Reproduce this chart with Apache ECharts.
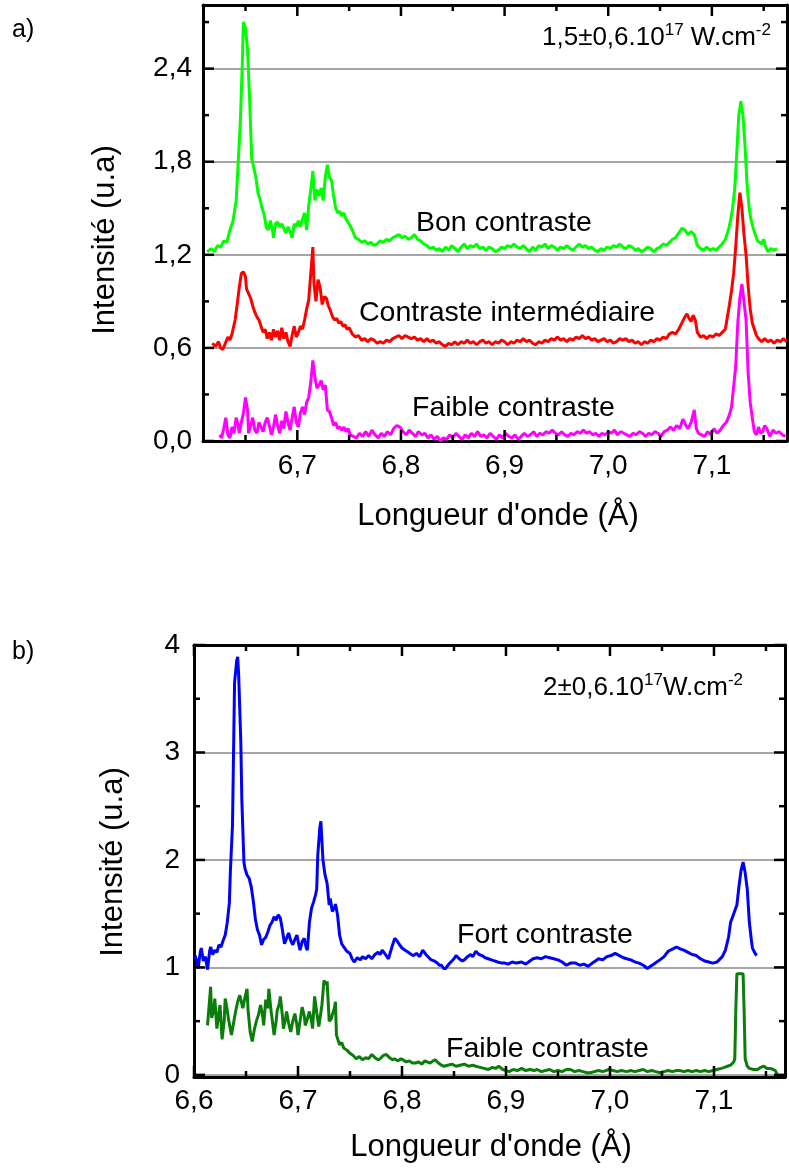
<!DOCTYPE html>
<html>
<head>
<meta charset="utf-8">
<script src="https://cdn.jsdelivr.net/npm/echarts@6/dist/echarts.min.js"></script>
<style>
html,body{margin:0;padding:0;background:#fff;}
#chart{width:789px;height:1169px;background:#fff;}
#dbg{position:absolute;left:0;top:545px;width:789px;font:12px monospace;white-space:pre-wrap;background:rgba(255,255,180,0.95);display:none;}
</style>
</head>
<body>
<div id="chart"></div>
<div id="dbg"></div>
<script>
const dbgLines = [];
function report(m) { dbgLines.push(m); const d = document.getElementById('dbg'); d.textContent = dbgLines.join('\n'); d.style.display = 'block'; }
window.addEventListener('error', function (e) { report('ERR ' + e.message); });

// ---------- Panel a) : 1,5±0,6.10^17 W.cm^-2 ----------
const bonContraste = [[6.613,1.22],[6.617,1.24],[6.620,1.22],[6.623,1.26],[6.626,1.25],[6.629,1.29],[6.632,1.28],[6.635,1.36],[6.638,1.42],[6.641,1.55],[6.643,1.80],[6.645,2.05],[6.647,2.45],[6.648,2.70],[6.650,2.66],[6.652,2.52],[6.654,2.20],[6.656,1.82],[6.658,1.76],[6.660,1.70],[6.662,1.60],[6.664,1.56],[6.666,1.50],[6.668,1.46],[6.670,1.38],[6.672,1.36],[6.674,1.42],[6.676,1.36],[6.677,1.31],[6.679,1.40],[6.681,1.41],[6.683,1.38],[6.685,1.40],[6.687,1.37],[6.689,1.34],[6.691,1.38],[6.693,1.35],[6.695,1.31],[6.697,1.40],[6.699,1.38],[6.701,1.42],[6.703,1.38],[6.705,1.43],[6.707,1.47],[6.709,1.36],[6.711,1.52],[6.713,1.62],[6.715,1.74],[6.717,1.55],[6.719,1.62],[6.721,1.58],[6.723,1.63],[6.725,1.55],[6.727,1.70],[6.729,1.78],[6.731,1.70],[6.733,1.68],[6.735,1.58],[6.737,1.50],[6.739,1.47],[6.741,1.48],[6.743,1.45],[6.745,1.47],[6.747,1.43],[6.750,1.40],[6.753,1.36],[6.756,1.31],[6.759,1.30],[6.762,1.28],[6.765,1.29],[6.768,1.27],[6.771,1.28],[6.774,1.26],[6.777,1.27],[6.780,1.29],[6.783,1.28],[6.786,1.30],[6.789,1.29],[6.792,1.31],[6.795,1.32],[6.798,1.33],[6.801,1.31],[6.804,1.32],[6.807,1.30],[6.810,1.31],[6.813,1.33],[6.816,1.30],[6.819,1.29],[6.822,1.27],[6.825,1.26],[6.828,1.24],[6.831,1.25],[6.834,1.23],[6.837,1.24],[6.840,1.22],[6.843,1.25],[6.846,1.23],[6.849,1.26],[6.852,1.24],[6.855,1.22],[6.858,1.25],[6.861,1.27],[6.864,1.24],[6.867,1.26],[6.870,1.25],[6.873,1.27],[6.876,1.24],[6.879,1.25],[6.882,1.23],[6.885,1.25],[6.888,1.24],[6.891,1.22],[6.894,1.23],[6.897,1.25],[6.900,1.24],[6.903,1.26],[6.906,1.25],[6.909,1.27],[6.912,1.25],[6.915,1.24],[6.918,1.26],[6.921,1.24],[6.924,1.22],[6.927,1.25],[6.930,1.23],[6.933,1.26],[6.936,1.25],[6.939,1.27],[6.942,1.24],[6.945,1.26],[6.948,1.25],[6.951,1.23],[6.954,1.25],[6.957,1.24],[6.960,1.26],[6.963,1.24],[6.966,1.23],[6.969,1.25],[6.972,1.27],[6.975,1.25],[6.978,1.26],[6.981,1.24],[6.984,1.25],[6.987,1.23],[6.990,1.22],[6.993,1.24],[6.996,1.23],[6.999,1.25],[7.002,1.24],[7.005,1.26],[7.008,1.25],[7.011,1.27],[7.014,1.25],[7.017,1.24],[7.020,1.26],[7.023,1.25],[7.026,1.23],[7.029,1.24],[7.032,1.22],[7.035,1.23],[7.038,1.25],[7.041,1.24],[7.044,1.22],[7.047,1.24],[7.050,1.25],[7.053,1.27],[7.056,1.26],[7.059,1.28],[7.062,1.30],[7.065,1.31],[7.068,1.34],[7.071,1.37],[7.074,1.36],[7.077,1.33],[7.080,1.35],[7.083,1.33],[7.086,1.26],[7.089,1.24],[7.092,1.23],[7.095,1.25],[7.098,1.23],[7.101,1.24],[7.104,1.23],[7.107,1.25],[7.110,1.27],[7.113,1.30],[7.116,1.36],[7.118,1.42],[7.120,1.50],[7.122,1.62],[7.124,1.85],[7.126,2.10],[7.128,2.19],[7.130,2.10],[7.132,1.90],[7.134,1.65],[7.136,1.50],[7.138,1.42],[7.140,1.37],[7.142,1.33],[7.144,1.29],[7.146,1.28],[7.148,1.27],[7.150,1.30],[7.152,1.25],[7.154,1.22],[7.157,1.24],[7.160,1.23],[7.163,1.24]];

const contrasteInter = [[6.618,0.63],[6.621,0.61],[6.624,0.64],[6.626,0.60],[6.628,0.59],[6.630,0.62],[6.633,0.67],[6.635,0.65],[6.637,0.69],[6.640,0.78],[6.642,0.88],[6.644,0.99],[6.646,1.08],[6.648,1.09],[6.650,1.06],[6.651,0.98],[6.653,0.95],[6.655,0.92],[6.657,0.87],[6.659,0.83],[6.661,0.80],[6.663,0.78],[6.665,0.74],[6.667,0.70],[6.669,0.72],[6.671,0.66],[6.673,0.70],[6.675,0.65],[6.677,0.72],[6.679,0.67],[6.681,0.71],[6.683,0.65],[6.685,0.73],[6.687,0.66],[6.689,0.70],[6.691,0.64],[6.693,0.61],[6.695,0.68],[6.697,0.74],[6.699,0.67],[6.701,0.70],[6.703,0.74],[6.705,0.72],[6.707,0.78],[6.709,0.85],[6.711,0.91],[6.713,1.08],[6.715,1.25],[6.716,1.02],[6.718,0.90],[6.720,1.04],[6.722,0.99],[6.724,0.88],[6.726,0.93],[6.728,0.92],[6.730,0.87],[6.732,0.84],[6.734,0.80],[6.736,0.78],[6.738,0.79],[6.740,0.76],[6.742,0.77],[6.744,0.74],[6.746,0.75],[6.748,0.72],[6.750,0.73],[6.753,0.69],[6.756,0.67],[6.759,0.68],[6.762,0.65],[6.765,0.66],[6.768,0.64],[6.771,0.66],[6.774,0.65],[6.777,0.63],[6.780,0.64],[6.783,0.63],[6.786,0.65],[6.789,0.64],[6.792,0.66],[6.795,0.67],[6.798,0.68],[6.801,0.66],[6.804,0.68],[6.807,0.67],[6.810,0.66],[6.813,0.67],[6.816,0.65],[6.819,0.66],[6.822,0.64],[6.825,0.66],[6.828,0.64],[6.831,0.65],[6.834,0.63],[6.837,0.64],[6.840,0.62],[6.843,0.61],[6.846,0.63],[6.849,0.62],[6.852,0.64],[6.855,0.62],[6.858,0.64],[6.861,0.63],[6.864,0.65],[6.867,0.63],[6.870,0.64],[6.873,0.62],[6.876,0.64],[6.879,0.65],[6.882,0.63],[6.885,0.64],[6.888,0.62],[6.891,0.64],[6.894,0.63],[6.897,0.65],[6.900,0.64],[6.903,0.62],[6.906,0.64],[6.909,0.63],[6.912,0.65],[6.915,0.64],[6.918,0.66],[6.921,0.64],[6.924,0.65],[6.927,0.63],[6.930,0.62],[6.933,0.64],[6.936,0.63],[6.939,0.65],[6.942,0.64],[6.945,0.66],[6.948,0.65],[6.951,0.67],[6.954,0.65],[6.957,0.66],[6.960,0.64],[6.963,0.66],[6.966,0.65],[6.969,0.67],[6.972,0.66],[6.975,0.68],[6.978,0.66],[6.981,0.67],[6.984,0.65],[6.987,0.66],[6.990,0.64],[6.993,0.65],[6.996,0.66],[6.999,0.64],[7.002,0.65],[7.005,0.63],[7.008,0.64],[7.011,0.66],[7.014,0.65],[7.017,0.66],[7.020,0.64],[7.023,0.65],[7.026,0.63],[7.029,0.64],[7.032,0.62],[7.035,0.64],[7.038,0.63],[7.041,0.65],[7.044,0.64],[7.047,0.66],[7.050,0.65],[7.053,0.67],[7.056,0.66],[7.059,0.69],[7.062,0.70],[7.065,0.69],[7.068,0.72],[7.071,0.76],[7.074,0.80],[7.076,0.82],[7.078,0.79],[7.080,0.77],[7.082,0.81],[7.084,0.78],[7.086,0.70],[7.089,0.67],[7.092,0.68],[7.095,0.66],[7.098,0.68],[7.101,0.67],[7.104,0.69],[7.107,0.68],[7.110,0.70],[7.113,0.72],[7.115,0.80],[7.117,0.88],[7.119,0.97],[7.121,1.08],[7.123,1.25],[7.125,1.45],[7.127,1.60],[7.129,1.50],[7.131,1.33],[7.133,1.20],[7.135,1.00],[7.137,0.85],[7.139,0.76],[7.141,0.72],[7.143,0.68],[7.145,0.66],[7.148,0.64],[7.151,0.66],[7.154,0.64],[7.157,0.65],[7.160,0.63],[7.163,0.65],[7.166,0.64],[7.169,0.66],[7.172,0.64]];

const faibleContrasteA = [[6.625,0.04],[6.627,0.02],[6.629,0.08],[6.631,0.15],[6.633,0.04],[6.635,0.02],[6.637,0.09],[6.639,0.05],[6.641,0.15],[6.643,0.10],[6.644,0.05],[6.646,0.12],[6.648,0.18],[6.650,0.28],[6.652,0.20],[6.653,0.05],[6.655,0.10],[6.657,0.15],[6.659,0.07],[6.661,0.05],[6.663,0.12],[6.665,0.09],[6.667,0.06],[6.669,0.12],[6.671,0.15],[6.673,0.10],[6.675,0.04],[6.677,0.09],[6.679,0.17],[6.681,0.10],[6.683,0.05],[6.685,0.13],[6.687,0.08],[6.689,0.19],[6.691,0.12],[6.693,0.07],[6.695,0.15],[6.697,0.22],[6.699,0.12],[6.701,0.09],[6.703,0.18],[6.705,0.22],[6.707,0.17],[6.709,0.25],[6.711,0.28],[6.713,0.38],[6.715,0.52],[6.717,0.41],[6.719,0.34],[6.721,0.36],[6.723,0.39],[6.725,0.33],[6.727,0.36],[6.729,0.20],[6.731,0.19],[6.733,0.15],[6.735,0.10],[6.737,0.12],[6.739,0.08],[6.741,0.09],[6.743,0.07],[6.745,0.09],[6.747,0.06],[6.749,0.08],[6.751,0.04],[6.754,0.03],[6.757,0.02],[6.760,0.05],[6.763,0.03],[6.766,0.06],[6.769,0.03],[6.772,0.07],[6.775,0.04],[6.778,0.02],[6.781,0.05],[6.784,0.03],[6.787,0.06],[6.790,0.04],[6.793,0.08],[6.796,0.10],[6.799,0.09],[6.802,0.06],[6.805,0.04],[6.808,0.07],[6.811,0.05],[6.814,0.03],[6.817,0.06],[6.820,0.04],[6.823,0.05],[6.826,0.02],[6.829,0.04],[6.832,0.01],[6.835,0.03],[6.838,0.00],[6.841,0.02],[6.844,0.01],[6.847,0.04],[6.850,0.02],[6.853,0.05],[6.856,0.03],[6.859,0.01],[6.862,0.04],[6.865,0.02],[6.868,0.05],[6.871,0.03],[6.874,0.06],[6.877,0.03],[6.880,0.04],[6.883,0.02],[6.886,0.05],[6.889,0.03],[6.892,0.01],[6.895,0.04],[6.898,0.02],[6.901,0.05],[6.904,0.03],[6.907,0.02],[6.910,0.04],[6.913,0.01],[6.916,0.03],[6.919,0.05],[6.922,0.03],[6.925,0.04],[6.928,0.06],[6.931,0.03],[6.934,0.05],[6.937,0.04],[6.940,0.06],[6.943,0.05],[6.946,0.07],[6.949,0.05],[6.952,0.04],[6.955,0.06],[6.958,0.04],[6.961,0.03],[6.964,0.05],[6.967,0.04],[6.970,0.06],[6.973,0.05],[6.976,0.07],[6.979,0.05],[6.982,0.06],[6.985,0.04],[6.988,0.05],[6.991,0.03],[6.994,0.05],[6.997,0.04],[7.000,0.06],[7.003,0.05],[7.006,0.07],[7.009,0.04],[7.012,0.06],[7.015,0.05],[7.018,0.04],[7.021,0.03],[7.024,0.05],[7.027,0.04],[7.030,0.06],[7.033,0.05],[7.036,0.03],[7.039,0.05],[7.042,0.04],[7.045,0.06],[7.048,0.05],[7.051,0.03],[7.054,0.06],[7.057,0.07],[7.060,0.09],[7.063,0.07],[7.066,0.10],[7.069,0.08],[7.072,0.14],[7.075,0.10],[7.077,0.08],[7.080,0.12],[7.083,0.20],[7.085,0.08],[7.087,0.05],[7.090,0.04],[7.093,0.03],[7.096,0.06],[7.099,0.04],[7.102,0.08],[7.105,0.05],[7.108,0.07],[7.111,0.10],[7.114,0.12],[7.117,0.17],[7.119,0.22],[7.121,0.35],[7.123,0.48],[7.125,0.76],[7.127,0.92],[7.129,1.01],[7.131,0.90],[7.133,0.78],[7.135,0.44],[7.137,0.25],[7.139,0.15],[7.141,0.06],[7.143,0.04],[7.145,0.09],[7.147,0.05],[7.149,0.06],[7.151,0.10],[7.153,0.08],[7.156,0.03],[7.159,0.07],[7.162,0.05],[7.165,0.06],[7.168,0.04],[7.171,0.03]];

// ---------- Panel b) : 2±0,6.10^17 W.cm^-2 ----------
const fortContraste = [[6.601,1.11],[6.603,1.05],[6.604,0.99],[6.606,1.14],[6.607,1.18],[6.609,1.06],[6.611,1.10],[6.613,0.98],[6.615,1.15],[6.616,1.19],[6.618,1.12],[6.620,1.16],[6.622,1.14],[6.624,1.21],[6.626,1.19],[6.628,1.25],[6.630,1.30],[6.632,1.42],[6.634,1.60],[6.635,1.90],[6.637,2.32],[6.639,3.65],[6.641,3.85],[6.642,3.89],[6.643,3.71],[6.645,3.10],[6.646,2.56],[6.648,1.98],[6.649,1.92],[6.651,1.86],[6.653,1.83],[6.655,1.75],[6.657,1.62],[6.659,1.45],[6.661,1.35],[6.663,1.30],[6.665,1.21],[6.667,1.26],[6.669,1.28],[6.671,1.33],[6.673,1.39],[6.675,1.42],[6.677,1.47],[6.679,1.44],[6.681,1.49],[6.683,1.46],[6.685,1.35],[6.687,1.22],[6.689,1.27],[6.691,1.32],[6.693,1.25],[6.695,1.21],[6.697,1.26],[6.699,1.30],[6.701,1.20],[6.702,1.16],[6.704,1.24],[6.706,1.27],[6.708,1.18],[6.709,1.16],[6.711,1.42],[6.713,1.55],[6.715,1.61],[6.717,1.68],[6.718,1.73],[6.719,2.04],[6.721,2.30],[6.722,2.36],[6.724,2.00],[6.726,1.86],[6.728,1.78],[6.730,1.58],[6.731,1.64],[6.733,1.52],[6.735,1.55],[6.736,1.59],[6.738,1.49],[6.740,1.30],[6.742,1.22],[6.744,1.19],[6.747,1.15],[6.750,1.13],[6.752,1.08],[6.754,1.05],[6.757,1.09],[6.760,1.07],[6.762,1.10],[6.765,1.08],[6.768,1.11],[6.771,1.08],[6.774,1.12],[6.777,1.14],[6.779,1.12],[6.781,1.16],[6.784,1.12],[6.787,1.08],[6.790,1.18],[6.793,1.27],[6.795,1.25],[6.797,1.22],[6.800,1.18],[6.803,1.16],[6.806,1.14],[6.809,1.12],[6.811,1.11],[6.814,1.13],[6.817,1.10],[6.820,1.16],[6.823,1.12],[6.826,1.09],[6.828,1.07],[6.831,1.06],[6.834,1.04],[6.836,1.02],[6.838,1.02],[6.840,0.99],[6.842,0.99],[6.845,1.03],[6.848,1.06],[6.850,1.08],[6.852,1.11],[6.855,1.08],[6.858,1.06],[6.860,1.07],[6.863,1.10],[6.866,1.12],[6.868,1.10],[6.871,1.15],[6.874,1.12],[6.877,1.11],[6.880,1.09],[6.883,1.08],[6.886,1.07],[6.889,1.06],[6.892,1.05],[6.896,1.04],[6.899,1.04],[6.902,1.03],[6.906,1.05],[6.910,1.04],[6.915,1.05],[6.919,1.03],[6.923,1.06],[6.926,1.08],[6.930,1.09],[6.934,1.08],[6.938,1.10],[6.942,1.09],[6.946,1.08],[6.950,1.07],[6.954,1.05],[6.958,1.02],[6.962,1.04],[6.967,1.04],[6.971,1.02],[6.975,1.03],[6.979,1.01],[6.983,1.04],[6.986,1.06],[6.989,1.08],[6.993,1.07],[6.997,1.10],[7.001,1.11],[7.005,1.13],[7.009,1.11],[7.013,1.09],[7.016,1.08],[7.020,1.07],[7.024,1.05],[7.028,1.04],[7.032,1.02],[7.036,0.99],[7.039,1.01],[7.042,1.03],[7.045,1.05],[7.048,1.07],[7.052,1.10],[7.056,1.15],[7.060,1.17],[7.064,1.19],[7.068,1.17],[7.071,1.16],[7.075,1.14],[7.079,1.12],[7.083,1.11],[7.087,1.08],[7.091,1.06],[7.095,1.05],[7.099,1.04],[7.103,1.05],[7.105,1.07],[7.108,1.10],[7.111,1.16],[7.114,1.28],[7.116,1.42],[7.119,1.50],[7.122,1.58],[7.124,1.75],[7.126,1.90],[7.128,1.98],[7.130,1.88],[7.132,1.73],[7.134,1.42],[7.136,1.25],[7.137,1.18],[7.139,1.14],[7.141,1.11]];

const faibleContrasteB = [[6.613,0.46],[6.616,0.82],[6.617,0.53],[6.619,0.60],[6.620,0.71],[6.622,0.43],[6.624,0.58],[6.625,0.65],[6.627,0.33],[6.629,0.50],[6.630,0.71],[6.632,0.60],[6.633,0.53],[6.636,0.37],[6.638,0.48],[6.640,0.59],[6.642,0.68],[6.644,0.74],[6.646,0.66],[6.647,0.62],[6.649,0.72],[6.651,0.80],[6.652,0.60],[6.654,0.40],[6.656,0.31],[6.658,0.42],[6.660,0.50],[6.662,0.56],[6.664,0.65],[6.666,0.55],[6.667,0.46],[6.669,0.70],[6.671,0.62],[6.672,0.80],[6.674,0.60],[6.675,0.53],[6.677,0.37],[6.679,0.50],[6.680,0.60],[6.682,0.66],[6.683,0.73],[6.685,0.55],[6.686,0.43],[6.688,0.52],[6.689,0.59],[6.691,0.48],[6.693,0.40],[6.695,0.50],[6.697,0.57],[6.699,0.46],[6.700,0.37],[6.702,0.50],[6.704,0.63],[6.706,0.55],[6.707,0.46],[6.709,0.52],[6.711,0.59],[6.713,0.50],[6.714,0.43],[6.716,0.73],[6.718,0.58],[6.720,0.45],[6.722,0.58],[6.723,0.65],[6.725,0.88],[6.727,0.84],[6.728,0.87],[6.730,0.50],[6.732,0.52],[6.733,0.56],[6.735,0.62],[6.736,0.68],[6.737,0.37],[6.740,0.28],[6.742,0.30],[6.744,0.25],[6.747,0.23],[6.750,0.20],[6.753,0.18],[6.756,0.15],[6.759,0.17],[6.762,0.14],[6.765,0.16],[6.768,0.15],[6.771,0.19],[6.774,0.16],[6.777,0.14],[6.779,0.15],[6.782,0.18],[6.785,0.19],[6.788,0.16],[6.791,0.14],[6.793,0.15],[6.796,0.13],[6.799,0.15],[6.801,0.14],[6.804,0.12],[6.807,0.13],[6.810,0.11],[6.813,0.11],[6.816,0.12],[6.819,0.10],[6.822,0.13],[6.824,0.12],[6.827,0.11],[6.830,0.13],[6.832,0.14],[6.835,0.11],[6.838,0.09],[6.840,0.08],[6.844,0.09],[6.848,0.10],[6.852,0.08],[6.856,0.09],[6.860,0.10],[6.864,0.08],[6.868,0.09],[6.871,0.08],[6.875,0.07],[6.879,0.06],[6.883,0.05],[6.887,0.07],[6.890,0.06],[6.893,0.08],[6.897,0.05],[6.900,0.04],[6.903,0.03],[6.907,0.05],[6.911,0.04],[6.915,0.06],[6.919,0.04],[6.923,0.05],[6.927,0.04],[6.930,0.05],[6.934,0.03],[6.938,0.04],[6.942,0.05],[6.946,0.03],[6.950,0.04],[6.954,0.03],[6.958,0.05],[6.962,0.05],[6.966,0.03],[6.970,0.04],[6.974,0.03],[6.978,0.02],[6.981,0.02],[6.985,0.03],[6.989,0.04],[6.993,0.03],[6.996,0.04],[6.999,0.05],[7.003,0.04],[7.007,0.03],[7.011,0.04],[7.016,0.03],[7.020,0.04],[7.024,0.03],[7.028,0.04],[7.032,0.05],[7.036,0.03],[7.040,0.04],[7.044,0.03],[7.048,0.02],[7.052,0.03],[7.056,0.04],[7.060,0.03],[7.064,0.04],[7.067,0.04],[7.071,0.03],[7.075,0.04],[7.079,0.03],[7.083,0.04],[7.087,0.03],[7.091,0.04],[7.095,0.03],[7.099,0.04],[7.103,0.05],[7.107,0.06],[7.110,0.07],[7.113,0.08],[7.116,0.09],[7.119,0.12],[7.120,0.15],[7.121,0.60],[7.122,0.94],[7.125,0.94],[7.128,0.94],[7.129,0.60],[7.130,0.15],[7.132,0.08],[7.134,0.06],[7.138,0.05],[7.142,0.05],[7.145,0.07],[7.148,0.08],[7.151,0.06],[7.154,0.06],[7.157,0.05],[7.159,0.04],[7.161,0.00]];

// ---------- Axis ranges and ticks ----------
const xRangeA = [6.609, 7.1725];
const yRangeA = [0, 2.81];
const xRangeB = [6.6, 7.1683];
const yRangeB = [-0.02, 4];
const xMajorA = [6.7, 6.8, 6.9, 7.0, 7.1];
const xMinorA = [6.65, 6.75, 6.85, 6.95, 7.05, 7.15];
const yMajorA = [0, 0.6, 1.2, 1.8, 2.4];
const yMinorA = [0.3, 0.9, 1.5, 2.1, 2.7];
const xMajorB = [6.6, 6.7, 6.8, 6.9, 7.0, 7.1];
const xMinorB = [6.65, 6.75, 6.85, 6.95, 7.05, 7.15];
const yMajorB = [0, 1, 2, 3, 4];
const yMinorB = [0.5, 1.5, 2.5, 3.5];

const FONT = "'Liberation Sans', Arial, sans-serif";
const comma1 = v => v.toFixed(1).replace('.', ',');
const intFmt = v => String(Math.round(v));
const MAJOR_LEN = 11, MINOR_LEN = 6;
const GRID_A = { left: 203, top: 5, width: 584, height: 436 };
const GRID_B = { left: 194, top: 645, width: 591, height: 432 };

function axisPair(dim, grid, range, labels, fmt, labelMargin) {
  const posA = dim === 'x' ? 'bottom' : 'left';
  const posB = dim === 'x' ? 'top' : 'right';
  const lineOn = { show: true, onZero: false, lineStyle: { color: '#000', width: 3 } };
  const base = { type: 'value', gridIndex: grid, min: range[0], max: range[1], scale: true,
    axisTick: { show: false }, axisLine: lineOn };
  return [
    Object.assign({}, base, { position: posA,
      axisTick: { show: false, customValues: labels },
      axisLabel: { show: true, customValues: labels, formatter: fmt, fontSize: 28, color: '#000', fontFamily: FONT, margin: labelMargin },
      splitLine: dim === 'y' ? { show: true, lineStyle: { color: '#888', width: 1.5 } } : { show: false } }),
    Object.assign({}, base, { position: posB, axisLabel: { show: false }, splitLine: { show: false } })
  ];
}

const xAxes = [].concat(
  axisPair('x', 0, xRangeA, xMajorA, comma1, 11),
  axisPair('x', 1, xRangeB, xMajorB, comma1, 10)
);
const yAxes = [].concat(
  axisPair('y', 0, yRangeA, yMajorA, comma1, 11),
  axisPair('y', 1, yRangeB, yMajorB, intFmt, 14)
);

function line(name, data, color, xi, yi) {
  return { name: name, type: 'line', data: data, xAxisIndex: xi, yAxisIndex: yi,
    showSymbol: false, symbol: 'none', lineStyle: { color: color, width: 3 }, itemStyle: { color: color },
    z: 3 };
}

// inward tick marks on all four sides, placed through the axes' scales (custom series)
function tickSeries(xi, yi, xr, yr, xMaj, xMin, yMaj, yMin) {
  const data = [];
  xMaj.forEach(v => data.push([v, yr[0], 0, MAJOR_LEN]));
  xMin.forEach(v => data.push([v, yr[0], 0, MINOR_LEN]));
  yMaj.forEach(v => data.push([xr[0], v, 1, MAJOR_LEN]));
  yMin.forEach(v => data.push([xr[0], v, 1, MINOR_LEN]));
  return {
    type: 'custom', xAxisIndex: xi, yAxisIndex: yi, silent: true, z: 10,
    encode: { x: 0, y: 1 }, clip: false, data: data,
    renderItem: function (params, api) {
      const kind = api.value(2), len = api.value(3);
      if (kind === 0) {
        const v = api.value(0);
        const b = api.coord([v, yr[0]]), t = api.coord([v, yr[1]]);
        return { type: 'group', children: [
          { type: 'line', shape: { x1: b[0], y1: b[1], x2: b[0], y2: b[1] - len }, style: { stroke: '#000', lineWidth: 2.5 } },
          { type: 'line', shape: { x1: t[0], y1: t[1], x2: t[0], y2: t[1] + len }, style: { stroke: '#000', lineWidth: 2.5 } }
        ] };
      }
      const v = api.value(1);
      const l = api.coord([xr[0], v]), r = api.coord([xr[1], v]);
      return { type: 'group', children: [
        { type: 'line', shape: { x1: l[0], y1: l[1], x2: l[0] + len, y2: l[1] }, style: { stroke: '#000', lineWidth: 2.5 } },
        { type: 'line', shape: { x1: r[0], y1: r[1], x2: r[0] - len, y2: r[1] }, style: { stroke: '#000', lineWidth: 2.5 } }
      ] };
    }
  };
}

const supRich = {
  m: { fontSize: 26, fontFamily: FONT, fill: '#000', lineHeight: 32 },
  s: { fontSize: 17, fontFamily: FONT, fill: '#000', lineHeight: 17, verticalAlign: 'top' }
};

const TZ = 100;
const texts = [
  { type: 'text', z: TZ, x: 12, y: 30, style: { text: 'a)', font: '25px ' + FONT, fill: '#000', verticalAlign: 'middle' } },
  { type: 'text', z: TZ, x: 12, y: 652, style: { text: 'b)', font: '25px ' + FONT, fill: '#000', verticalAlign: 'middle' } },
  { type: 'text', z: TZ, x: 542, y: 38, style: { text: '{m|1,5±0,6.10}{s|17}{m| W.cm}{s|-2}', verticalAlign: 'middle', rich: supRich } },
  { type: 'text', z: TZ, x: 543, y: 688, style: { text: '{m|2±0,6.10}{s|17}{m|W.cm}{s|-2}', verticalAlign: 'middle', rich: supRich } },
  { type: 'text', z: TZ, x: 416, y: 223, style: { text: 'Bon contraste', font: '28.5px ' + FONT, fill: '#000', verticalAlign: 'middle' } },
  { type: 'text', z: TZ, x: 359, y: 313, style: { text: 'Contraste intermédiaire', font: '28.5px ' + FONT, fill: '#000', verticalAlign: 'middle' } },
  { type: 'text', z: TZ, x: 412, y: 408, style: { text: 'Faible contraste', font: '28.5px ' + FONT, fill: '#000', verticalAlign: 'middle' } },
  { type: 'text', z: TZ, x: 457, y: 935, style: { text: 'Fort contraste', font: '28.5px ' + FONT, fill: '#000', verticalAlign: 'middle' } },
  { type: 'text', z: TZ, x: 446, y: 1049, style: { text: 'Faible contraste', font: '28.5px ' + FONT, fill: '#000', verticalAlign: 'middle' } },
  { type: 'text', z: TZ, x: 498, y: 516, style: { text: "Longueur d'onde (Å)", font: '31px ' + FONT, fill: '#000', align: 'center', verticalAlign: 'middle' } },
  { type: 'text', z: TZ, x: 491, y: 1147, style: { text: "Longueur d'onde (Å)", font: '31px ' + FONT, fill: '#000', align: 'center', verticalAlign: 'middle' } },
  { type: 'text', z: TZ, x: 105, y: 240, rotation: Math.PI / 2, style: { text: 'Intensité (u.a)', font: '31px ' + FONT, fill: '#000', align: 'center', verticalAlign: 'middle' } },
  { type: 'text', z: TZ, x: 113, y: 862, rotation: Math.PI / 2, style: { text: 'Intensité (u.a)', font: '31px ' + FONT, fill: '#000', align: 'center', verticalAlign: 'middle' } }
];

const chart = echarts.init(document.getElementById('chart'));
try {
  chart.setOption({
    animation: false,
    grid: [GRID_A, GRID_B],
    xAxis: xAxes,
    yAxis: yAxes,
    series: [
      line('Faible contraste (a)', faibleContrasteA, '#ff00ff', 0, 0),
      line('Contraste intermédiaire', contrasteInter, '#ff0000', 0, 0),
      line('Bon contraste', bonContraste, '#00ff00', 0, 0),
      line('Faible contraste (b)', faibleContrasteB, '#0a7d0a', 2, 2),
      line('Fort contraste', fortContraste, '#0000ff', 2, 2),
      tickSeries(0, 0, xRangeA, yRangeA, xMajorA, xMinorA, yMajorA, yMinorA),
      tickSeries(2, 2, xRangeB, yRangeB, xMajorB, xMinorB, yMajorB, yMinorB)
    ],
    graphic: texts
  });
} catch (e) { report('setOption: ' + e.message); }

// diagnostics, shown only if something is wrong
try {
  const zr = chart.getZr();
  zr.refreshImmediately();
  const list = zr.storage.getDisplayList(true);
  let n = 0; const sample = [];
  list.forEach(function (el) {
    if (el.type === 'line' && el.style && el.style.lineWidth === 2.5) {
      n++;
      if (sample.length < 3) sample.push(JSON.stringify(el.shape) + ' z=' + el.z + ' inv=' + el.invisible + ' op=' + el.style.opacity + ' parentPos=' + (el.parent ? [el.parent.x, el.parent.y, el.parent.scaleX, el.parent.scaleY].join('/') : '') );
    }
  });
  const expected = 2 * (xMajorA.length + xMinorA.length + yMajorA.length + yMinorA.length + xMajorB.length + xMinorB.length + yMajorB.length + yMinorB.length);
  if (n !== expected) report('tick els ' + n + '/' + expected + ' total ' + list.length);
  if (typeof window.__showDiag !== 'undefined') report(sample.join('\n'));
} catch (e) { report('diag: ' + e.message); }
</script>
</body>
</html>
